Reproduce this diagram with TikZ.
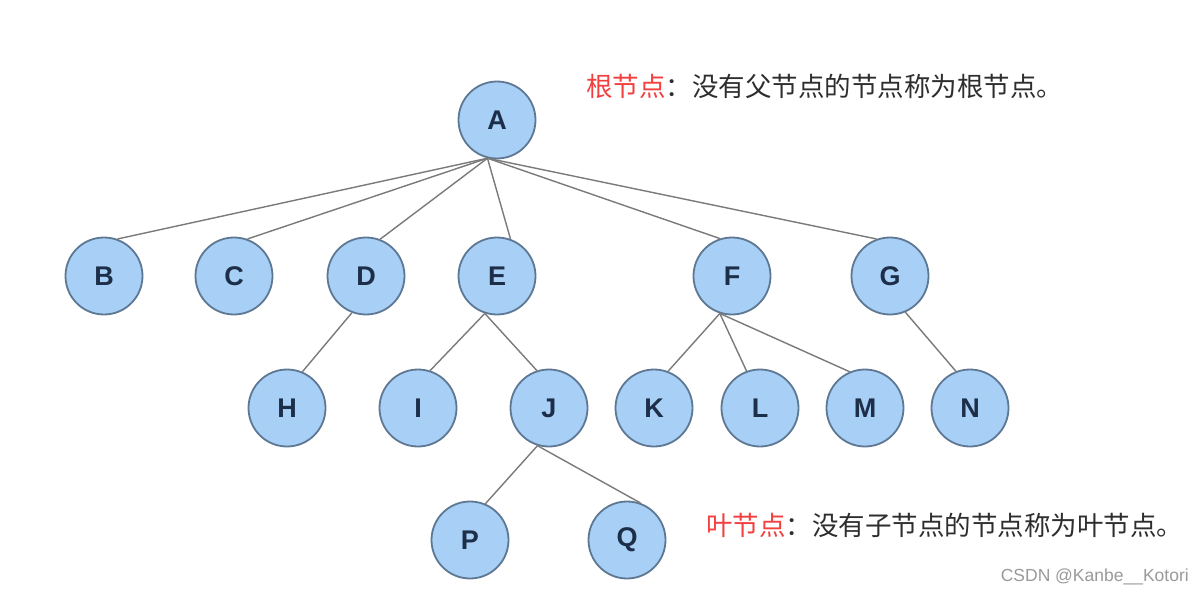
\documentclass[tikz,border=0pt]{standalone}
\usepackage{fontspec}
\setmainfont{Liberation Sans}
\newfontfamily\cjk{Noto Sans CJK SC}
\definecolor{nodefill}{HTML}{A8CFF5}
\definecolor{nodeedge}{HTML}{5E7894}
\definecolor{letter}{HTML}{1C2E48}
\definecolor{edgegray}{HTML}{7A7A7A}
\definecolor{redtxt}{HTML}{F2403F}
\definecolor{darktxt}{HTML}{2E2E2E}
\definecolor{marktxt}{HTML}{9A9A9A}
\tikzset{
  tnode/.style={circle, draw=nodeedge, line width=1.8pt, fill=nodefill,
    minimum size=77pt, inner sep=0pt, text=letter,
    font=\fontsize{27}{27}\selectfont\bfseries},
  link/.style={draw=edgegray, line width=1.4pt},
  note/.style={anchor=west, inner sep=0pt, text=darktxt, font=\cjk\fontsize{26.5}{26.5}\selectfont},
}
\begin{document}
\begin{tikzpicture}[x=1pt,y=-1pt]
\path[use as bounding box, fill=white] (0,0) rectangle (1203,594);
% nodes
\node[tnode] (A) at (497,120) {A};
\node[tnode] (B) at (104,276) {B};
\node[tnode] (C) at (234,276) {C};
\node[tnode] (D) at (366,276) {D};
\node[tnode] (E) at (497,276) {E};
\node[tnode] (F) at (732,276) {F};
\node[tnode] (G) at (890,276) {G};
\node[tnode] (H) at (287,408) {H};
\node[tnode] (I) at (418,408) {I};
\node[tnode] (J) at (549,408) {J};
\node[tnode] (K) at (654,408) {K};
\node[tnode] (L) at (760,408) {L};
\node[tnode] (M) at (865,408) {M};
\node[tnode] (N) at (970,408) {N};
\node[tnode] (P) at (470,540) {P};
\node[tnode] (Q) at (627,540) {Q};
% edges
\draw[link] (A.-104) -- (B.70);
\draw[link] (A.-104) -- (C.70);
\draw[link] (A.-104) -- (D.69);
\draw[link] (A.-104) -- (E.70);
\draw[link] (A.-104) -- (F.108);
\draw[link] (A.-104) -- (G.110);
\draw[link] (D.-111) -- (H.67);
\draw[link] (E.-108) -- (I.72);
\draw[link] (E.-108) -- (J.108);
\draw[link] (F.-108) -- (K.69);
\draw[link] (F.-108) -- (L.110);
\draw[link] (F.-108) -- (M.113);
\draw[link] (G.-67) -- (N.111);
\draw[link] (J.-107) -- (P.67);
\draw[link] (J.-107) -- (Q.70);
% annotations
\node[note] (rootnote) at (586,86) {\textcolor{redtxt}{根节点}：没有父节点的节点称为根节点。};
\node[note] (leafnote) at (706,525) {\textcolor{redtxt}{叶节点}：没有子节点的节点称为叶节点。};
\node[anchor=east, inner sep=0pt, text=marktxt, font=\fontsize{17.5}{17.5}\selectfont] (mark) at (1189,577) {CSDN @Kanbe\_\_Kotori};
\end{tikzpicture}
\end{document}
